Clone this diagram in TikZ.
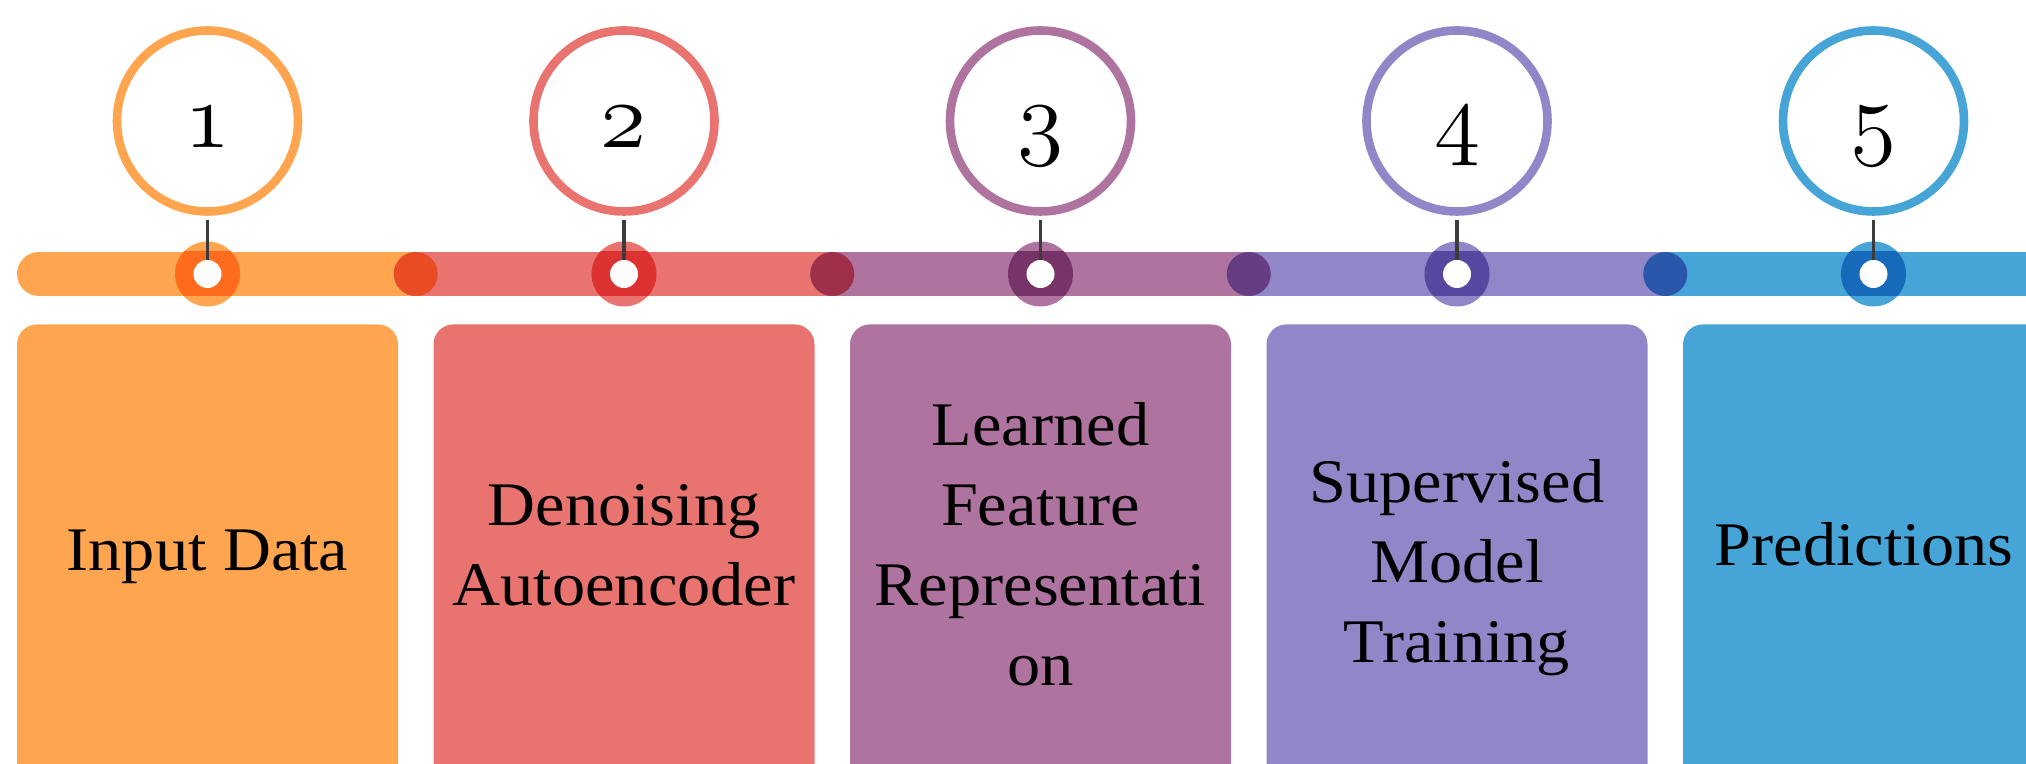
\RequirePackage{fix-cm}
\documentclass[tikz,border=0pt]{standalone}
\usepackage{fontspec}
\setmainfont{Liberation Serif}[FakeStretch=1.07]
\definecolor{orangeL}{HTML}{FFA54F}
\definecolor{orangeD}{HTML}{FF6C1E}
\definecolor{redL}{HTML}{E9736F}
\definecolor{redD}{HTML}{DC3232}
\definecolor{mauveL}{HTML}{AE739E}
\definecolor{mauveD}{HTML}{783469}
\definecolor{lilacL}{HTML}{9186C7}
\definecolor{lilacD}{HTML}{5548A0}
\definecolor{blueL}{HTML}{46A5D6}
\definecolor{blueD}{HTML}{1769B9}
\definecolor{joinA}{HTML}{E94C24}
\definecolor{joinB}{HTML}{A0304A}
\definecolor{joinC}{HTML}{663C82}
\definecolor{joinD}{HTML}{2A57AA}
\definecolor{stemgray}{HTML}{3C3C3C}
\newcommand\stepnum[1]{{\fontsize{47}{47}\usefont{OML}{cmm}{m}{it}#1}}
\tikzset{
  numring/.style={circle,draw,line width=4.3pt,fill=white,minimum size=90.5pt,inner sep=0pt,text height=27pt,text depth=0pt},
  segment/.style={line width=22pt,line cap=round},
  pin/.style={circle,fill,minimum size=32.5pt,inner sep=0pt},
  hole/.style={circle,fill=white,minimum size=14pt,inner sep=0pt},
  stem/.style={draw=stemgray,line width=1.6pt,shorten <=2.2pt},
  stepbox/.style={rectangle,rounded corners=10pt,minimum width=190.5pt,minimum height=270pt,anchor=north,inner sep=0pt},
  steplabel/.style={align=center,font=\fontsize{31}{40}\selectfont,inner sep=0pt}
}
\begin{document}
\begin{tikzpicture}[x=0.5pt,y=0.5pt]
\clip (0,0) rectangle (2026,764);
% timeline bar
\coordinate (j0) at (39,490);
\coordinate (j1) at (415.75,490);
\coordinate (j2) at (832.25,490);
\coordinate (j3) at (1248.75,490);
\coordinate (j4) at (1665.25,490);
\coordinate (j5) at (2120,490);
\draw[segment,orangeL] (j0) -- (j1);
\draw[segment,redL] (j1) -- (j2);
\draw[segment,mauveL] (j2) -- (j3);
\draw[segment,lilacL] (j3) -- (j4);
\draw[segment,blueL] (j4) -- (j5);
\fill[joinA] (j1) circle (11pt);
\fill[joinB] (j2) circle (11pt);
\fill[joinC] (j3) circle (11pt);
\fill[joinD] (j4) circle (11pt);
% pins on the bar
\node[pin,orangeL] (pin1) at (207.5,490) {};
\node[pin,redL] (pin2) at (624,490) {};
\node[pin,mauveL] (pin3) at (1040.5,490) {};
\node[pin,lilacL] (pin4) at (1457,490) {};
\node[pin,blueL] (pin5) at (1873.5,490) {};
\begin{scope}
\clip (0,468) rectangle (2026,512);
\fill[orangeD] (pin1) circle (16.25pt);
\fill[redD] (pin2) circle (16.25pt);
\fill[mauveD] (pin3) circle (16.25pt);
\fill[lilacD] (pin4) circle (16.25pt);
\fill[blueD] (pin5) circle (16.25pt);
\end{scope}
\node[hole] (hole1) at (pin1) {};
\node[hole] (hole2) at (pin2) {};
\node[hole] (hole3) at (pin3) {};
\node[hole] (hole4) at (pin4) {};
\node[hole] (hole5) at (pin5) {};
% numbered rings
\node[numring,draw=orangeL] (ring1) at (207.5,643) {\stepnum{1}};
\node[numring,draw=redL] (ring2) at (624,643) {\stepnum{2}};
\node[numring,draw=mauveL] (ring3) at (1040.5,643) {\stepnum{3}};
\node[numring,draw=lilacL] (ring4) at (1457,643) {\stepnum{4}};
\node[numring,draw=blueL] (ring5) at (1873.5,643) {\stepnum{5}};
\draw[stem] (ring1) -- (hole1);
\draw[stem] (ring2) -- (hole2);
\draw[stem] (ring3) -- (hole3);
\draw[stem] (ring4) -- (hole4);
\draw[stem] (ring5) -- (hole5);
% boxes
\node[stepbox,fill=orangeL] (box1) at (207.5,440) {};
\node[stepbox,fill=redL] (box2) at (624,440) {};
\node[stepbox,fill=mauveL] (box3) at (1040.5,440) {};
\node[stepbox,fill=lilacL] (box4) at (1457,440) {};
\node[stepbox,fill=blueL] (box5) at (1873.5,440) {};
\node[steplabel] (lab1) at (207.5,206.75) {Input Data};
\node[steplabel] (lab2) at (624,219) {Denoising\\Autoencoder};
\node[steplabel] (lab3) at (1040.5,219.8) {Learned\\Feature\\Representati\\on};
\node[steplabel] (lab4) at (1457,196.4) {Supervised\\Model\\Training};
\node[steplabel] (lab5) at (1864,219.8) {Predictions};
\end{tikzpicture}
\end{document}
